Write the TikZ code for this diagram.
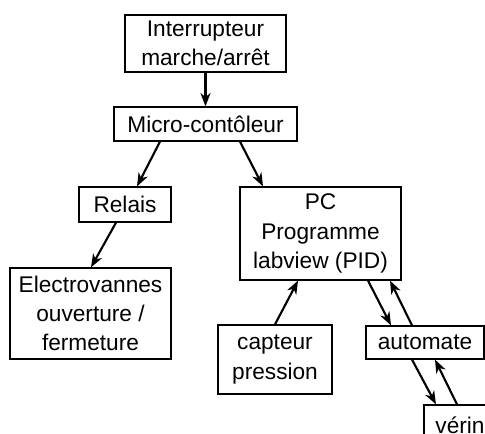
\documentclass[tikz,border=0pt]{standalone}
\usepackage{fontspec}
\setmainfont{Liberation Sans}
\usetikzlibrary{arrows.meta,calc}
\begin{document}
\begin{tikzpicture}[x=0.75pt,y=-0.75pt,
  box/.style={draw=black,line width=0.9pt,inner sep=0pt,align=center,
    font=\fontsize{17}{22}\selectfont},
  arr/.style={line width=1.6pt,-{Stealth[length=10pt,width=7.5pt,inset=3pt]}}]
\useasboundingbox (0,0) rectangle (485,434);
\clip (0,0) rectangle (485,434);
\node[box,minimum width=120.75pt,minimum height=42.75pt] (int) at (205.5,43.5) {Interrupteur\\marche/arrêt};
\node[box,minimum width=137.25pt,minimum height=25.5pt] (micro) at (205.5,124) {Micro-contôleur};
\node[box,minimum width=69pt,minimum height=26.25pt] (relais) at (125,204.5) {Relais};
\node[box,minimum width=120.75pt,minimum height=69.75pt] (pc) at (320.5,233.5) {PC\\Programme\\labview (PID)};
\node[box,minimum width=120.75pt,minimum height=68.25pt] (electro) at (90.5,313.5) {Electrovannes\\ouverture /\\fermeture};
\node[box,minimum width=85.5pt,minimum height=51.75pt] (capteur) at (275,359.5) {capteur\\pression};
\node[box,minimum width=88.5pt,minimum height=24.75pt] (auto) at (425,342.5) {automate};
\node[box,minimum width=54pt,minimum height=30pt] (verin) at (460,425) {vérin};
\draw[arr] (int.south) -- (micro.north);
\draw[arr] ($(micro.south)+(-45.5,0)$) -- ($(relais.north)+(12,0)$);
\draw[arr] ($(micro.south)+(34.5,0)$) -- ($(pc.north)+(-57.5,0)$);
\draw[arr] ($(relais.south)+(-9,0)$) -- ($(electro.north)+(0.5,0)$);
\draw[arr] (capteur.north) -- ($(pc.south)+(-22.5,0)$);
\draw[arr] ($(pc.south)+(47.5,0)$) -- ($(auto.north)+(-34,0)$);
\draw[arr] ($(auto.north)+(-13,0)$) -- ($(pc.south)+(69.5,0)$);
\draw[arr] ($(auto.south)+(-13,0)$) -- ($(verin.north)+(-24,0)$);
\draw[arr] ($(verin.north)+(-3,0)$) -- ($(auto.south)+(10,0)$);
\end{tikzpicture}
\end{document}
